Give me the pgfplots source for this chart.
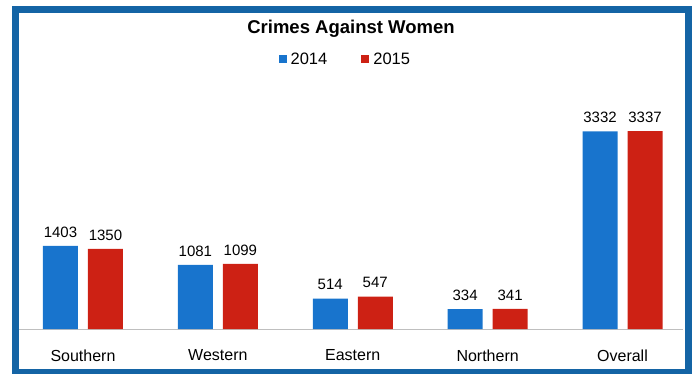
\documentclass[border=0pt]{standalone}
\usepackage{fontspec}
\setmainfont{Liberation Sans}
\usepackage{pgfplots}
\pgfplotsset{compat=1.18}
\definecolor{barblue}{RGB}{24,116,205}
\definecolor{barred}{RGB}{205,33,20}
\definecolor{framecol}{RGB}{20,100,165}
\begin{document}
\begin{tikzpicture}
\useasboundingbox (-19pt,-44pt) rectangle (674pt,329pt);
\begin{axis}[
  scale only axis,
  width=664pt, height=254pt,
  xmin=-0.4744, xmax=4.4485,
  ymin=0, ymax=4283,
  enlargelimits=false,
  ybar=10pt, bar width=35pt,
  axis y line=none,
  axis x line*=bottom,
  x axis line style={draw=gray!50, line width=0.8pt, -},
  xtick={0,1,2,3,4},
  xticklabels={Southern,Western,Eastern,Northern,Overall},
  major tick length=0pt,
  xticklabel style={font=\fontsize{16}{18}\selectfont, yshift=-17pt},
  nodes near coords,
  nodes near coords style={/pgf/number format/assume math mode=true, /pgf/number format/1000 sep={}},
  every node near coord/.append style={font=\fontsize{15}{17}\selectfont, color=black, yshift=5pt},
  title={Crimes Against Women},
  title style={at={(axis description cs:0.5,1)}, anchor=center, yshift=40pt, font=\bfseries\fontsize{18.5}{21}\selectfont},
  legend style={at={(axis description cs:0.493,1)}, anchor=center, yshift=16pt, draw=none, fill=none, font=\fontsize{16.5}{18}\selectfont, legend columns=2, /tikz/every even column/.style={column sep=30pt}, nodes={inner xsep=4pt}},
  legend image code/.code={\fill[#1] (0pt,-4pt) rectangle (8pt,4pt);},
]
\addplot[fill=barblue, draw=none] coordinates {(0,1403) (1,1081) (2,514) (3,334) (4,3332)};
\addplot[fill=barred, draw=none] coordinates {(0,1350) (1,1099) (2,547) (3,341) (4,3337)};
\legend{2014,2015}
\end{axis}
\draw[framecol, line width=7pt] (-3.5pt,-43.5pt) rectangle (669pt,319.5pt);
\end{tikzpicture}
\end{document}
